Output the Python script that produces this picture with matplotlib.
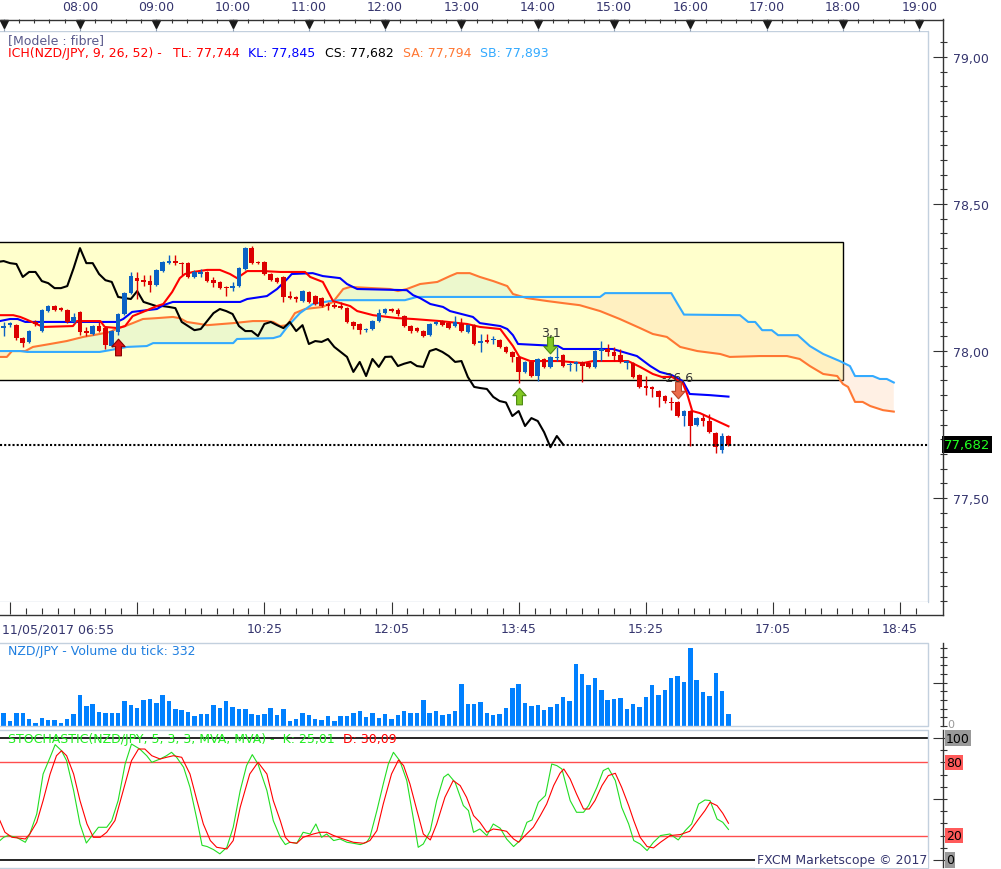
import numpy as np
import matplotlib
matplotlib.use('Agg')
import matplotlib.pyplot as plt
from matplotlib.path import Path
from matplotlib.patches import Rectangle
from matplotlib.lines import Line2D
from matplotlib.ticker import FixedLocator, MultipleLocator, FuncFormatter, NullFormatter

plt.rcParams['font.family'] = ['DejaVu Sans']

# NZD/JPY, 5 minute bars of 11/05/2017, bar 0 = 07:00
opens = [78.078, 78.088, 78.088, 78.044, 78.031, 78.099, 78.068, 78.136, 78.153, 78.146,
         78.139, 78.099, 78.133, 78.068, 78.058, 78.085, 78.078, 78.017, 78.065, 78.126,
         78.197, 78.248, 78.241, 78.238, 78.224, 78.272, 78.301, 78.306, 78.299, 78.299,
         78.252, 78.262, 78.269, 78.241, 78.235, 78.218, 78.214, 78.221, 78.279, 78.350,
         78.303, 78.303, 78.262, 78.248, 78.252, 78.187, 78.184, 78.170, 78.201, 78.187,
         78.180, 78.160, 78.156, 78.153, 78.146, 78.099, 78.092, 78.071, 78.075, 78.102,
         78.129, 78.143, 78.139, 78.119, 78.085, 78.078, 78.068, 78.054, 78.092, 78.102,
         78.095, 78.085, 78.092, 78.065, 78.088, 78.027, 78.037, 78.037, 78.037, 78.014,
         77.997, 77.980, 77.929, 77.963, 77.915, 77.973, 77.946, 77.976, 77.986, 77.952,
         77.956, 77.963, 77.959, 77.946, 78.000, 78.007, 77.997, 77.986, 77.959, 77.959,
         77.918, 77.881, 77.878, 77.864, 77.847, 77.828, 77.827, 77.779, 77.796, 77.748,
         77.772, 77.762, 77.721, 77.663, 77.711]
highs = [78.099, 78.099, 78.092, 78.048, 78.071, 78.105, 78.143, 78.156, 78.156, 78.150,
         78.143, 78.129, 78.136, 78.082, 78.088, 78.099, 78.082, 78.071, 78.129, 78.201,
         78.269, 78.269, 78.258, 78.258, 78.279, 78.306, 78.326, 78.326, 78.303, 78.303,
         78.276, 78.279, 78.272, 78.252, 78.238, 78.221, 78.235, 78.286, 78.354, 78.357,
         78.306, 78.306, 78.265, 78.252, 78.255, 78.204, 78.187, 78.207, 78.204, 78.190,
         78.184, 78.167, 78.167, 78.167, 78.150, 78.102, 78.095, 78.078, 78.105, 78.143,
         78.146, 78.146, 78.146, 78.122, 78.088, 78.082, 78.071, 78.095, 78.102, 78.105,
         78.099, 78.119, 78.112, 78.092, 78.092, 78.058, 78.058, 78.051, 78.041, 78.017,
         78.000, 77.983, 77.966, 77.966, 77.976, 77.976, 77.983, 78.014, 77.990, 77.963,
         77.966, 77.966, 77.963, 78.003, 78.034, 78.024, 78.014, 78.007, 77.969, 77.963,
         77.922, 77.915, 77.881, 77.867, 77.850, 77.844, 77.830, 77.799, 77.799, 77.776,
         77.786, 77.786, 77.724, 77.721, 77.714]
lows = [78.051, 78.082, 78.037, 78.014, 78.027, 78.085, 78.065, 78.133, 78.136, 78.136,
        78.095, 78.095, 78.054, 78.051, 78.054, 78.065, 78.007, 78.014, 78.054, 78.122,
        78.194, 78.177, 78.221, 78.201, 78.221, 78.269, 78.296, 78.293, 78.258, 78.248,
        78.248, 78.252, 78.235, 78.218, 78.211, 78.187, 78.204, 78.218, 78.276, 78.296,
        78.296, 78.258, 78.238, 78.231, 78.167, 78.177, 78.167, 78.167, 78.163, 78.156,
        78.150, 78.139, 78.146, 78.143, 78.095, 78.075, 78.058, 78.065, 78.071, 78.099,
        78.126, 78.133, 78.119, 78.082, 78.061, 78.065, 78.048, 78.051, 78.088, 78.085,
        78.075, 78.082, 78.065, 78.061, 78.020, 77.997, 78.027, 78.024, 78.010, 77.993,
        77.963, 77.891, 77.925, 77.912, 77.898, 77.942, 77.942, 77.966, 77.946, 77.932,
        77.932, 77.895, 77.942, 77.942, 77.966, 77.983, 77.966, 77.959, 77.939, 77.908,
        77.874, 77.850, 77.844, 77.810, 77.823, 77.799, 77.776, 77.745, 77.677, 77.745,
        77.745, 77.721, 77.653, 77.653, 77.677]
closes = [78.085, 78.094, 78.044, 78.027, 78.068, 78.092, 78.139, 78.153, 78.139, 78.139,
          78.099, 78.116, 78.065, 78.063, 78.085, 78.068, 78.020, 78.068, 78.126, 78.197,
          78.255, 78.238, 78.235, 78.224, 78.276, 78.303, 78.306, 78.299, 78.296, 78.252,
          78.269, 78.269, 78.238, 78.231, 78.214, 78.214, 78.221, 78.282, 78.350, 78.299,
          78.299, 78.262, 78.241, 78.235, 78.184, 78.180, 78.177, 78.204, 78.167, 78.160,
          78.153, 78.153, 78.150, 78.146, 78.099, 78.085, 78.071, 78.075, 78.102, 78.129,
          78.143, 78.136, 78.126, 78.085, 78.068, 78.068, 78.051, 78.092, 78.099, 78.088,
          78.078, 78.099, 78.068, 78.088, 78.024, 78.034, 78.031, 78.041, 78.014, 77.997,
          77.980, 77.929, 77.963, 77.915, 77.973, 77.946, 77.980, 77.981, 77.949, 77.957,
          77.963, 77.949, 77.946, 78.000, 78.007, 77.997, 77.983, 77.963, 77.966, 77.912,
          77.878, 77.874, 77.871, 77.844, 77.830, 77.825, 77.779, 77.796, 77.745, 77.772,
          77.762, 77.724, 77.673, 77.711, 77.682]
volumes = [385, 144, 385, 385, 192, 96, 240, 164, 164, 96,
           192, 337, 885, 577, 625, 414, 385, 385, 385, 712,
           596, 529, 741, 789, 654, 885, 712, 481, 452, 414,
           279, 356, 337, 596, 519, 712, 539, 481, 481, 337,
           308, 337, 510, 308, 481, 135, 192, 385, 308, 192,
           164, 279, 135, 279, 279, 366, 423, 250, 366, 221,
           337, 192, 308, 423, 385, 366, 741, 366, 423, 308,
           337, 423, 1203, 625, 625, 683, 366, 308, 337, 510,
           1106, 1222, 654, 577, 596, 462, 539, 625, 827, 712,
           1780, 1491, 1174, 1376, 1029, 741, 770, 798, 481, 625,
           539, 827, 1174, 885, 1029, 1376, 1433, 1260, 2241, 1318,
           972, 856, 1520, 1000, 332]

# Ichimoku (9, 26, 52) lines: (bar, price)
tenkan = [(-0.6, 78.122), (1.5, 78.122), (2.6, 78.116), (3.4, 78.109), (6.2, 78.082), (10.9, 78.085),
          (11.5, 78.102), (15.2, 78.102), (15.9, 78.082), (18.0, 78.078), (19.1, 78.085), (20.3, 78.119),
          (21.9, 78.133), (24.1, 78.153), (25.1, 78.160), (26.5, 78.201), (27.7, 78.248), (28.5, 78.262),
          (29.8, 78.269), (32.0, 78.276), (34.0, 78.276), (35.6, 78.262), (36.7, 78.248), (38.3, 78.272),
          (40.8, 78.272), (43.5, 78.269), (47.4, 78.269), (48.2, 78.252), (50.2, 78.235), (51.8, 78.170),
          (53.4, 78.160), (54.5, 78.153), (55.6, 78.136), (58.1, 78.122), (61.9, 78.112), (64.4, 78.109),
          (68.6, 78.102), (72.9, 78.092), (74.9, 78.082), (78.1, 78.075), (80.1, 78.017), (81.1, 77.980),
          (82.8, 77.966), (87.5, 77.966), (91.1, 77.959), (92.7, 77.966), (98.2, 77.966), (100.1, 77.946),
          (102.1, 77.922), (103.5, 77.912), (105.1, 77.912), (106.8, 77.891), (107.5, 77.854),
          (108.3, 77.796), (109.5, 77.789), (111.5, 77.769), (114.0, 77.744)]
kijun = [(-0.6, 78.102), (1.0, 78.109), (2.2, 78.109), (3.4, 78.099), (17.8, 78.099), (18.8, 78.109),
         (20.2, 78.133), (24.1, 78.143), (25.1, 78.156), (26.6, 78.167), (37.2, 78.167), (38.3, 78.177),
         (41.4, 78.187), (43.0, 78.211), (44.6, 78.245), (45.3, 78.262), (48.6, 78.265), (50.2, 78.255),
         (52.9, 78.248), (54.0, 78.228), (55.6, 78.211), (63.4, 78.207), (64.4, 78.190), (65.5, 78.180),
         (67.1, 78.160), (69.1, 78.150), (70.2, 78.136), (73.8, 78.116), (74.9, 78.095), (78.1, 78.085),
         (79.2, 78.075), (80.1, 78.054), (80.9, 78.024), (87.2, 78.017), (88.0, 78.007), (95.8, 78.007),
         (98.0, 77.993), (99.6, 77.983), (101.7, 77.949), (103.2, 77.929), (105.1, 77.918),
         (106.8, 77.898), (107.9, 77.854), (111.1, 77.850), (114.0, 77.845)]
senkou_a = [(-0.6, 77.980), (0.5, 77.980), (1.3, 78.000), (3.4, 78.000), (4.6, 78.014), (7.3, 78.024),
            (9.9, 78.034), (12.5, 78.048), (15.1, 78.058), (16.7, 78.065), (18.0, 78.078), (19.1, 78.085),
            (20.3, 78.095), (21.9, 78.109), (24.1, 78.112), (26.6, 78.116), (27.7, 78.112), (28.8, 78.099),
            (30.9, 78.092), (32.0, 78.088), (36.1, 78.095), (39.2, 78.102), (41.4, 78.102), (42.4, 78.099),
            (43.5, 78.085), (44.6, 78.088), (45.8, 78.129), (47.4, 78.143), (50.2, 78.150), (51.8, 78.167),
            (53.4, 78.211), (54.5, 78.218), (60.8, 78.211), (62.0, 78.204), (63.4, 78.211), (65.5, 78.228),
            (68.2, 78.235), (70.2, 78.255), (71.3, 78.265), (73.3, 78.265), (74.9, 78.252), (77.0, 78.238),
            (79.2, 78.221), (80.1, 78.194), (82.3, 78.180), (85.5, 78.170), (88.0, 78.163), (90.6, 78.156),
            (93.8, 78.136), (96.9, 78.109), (100.1, 78.078), (102.1, 78.058), (104.3, 78.048),
            (106.4, 78.014), (109.1, 78.000), (112.7, 77.990), (114.2, 77.980), (118.9, 77.983),
            (123.2, 77.983), (125.2, 77.973), (126.8, 77.949), (128.9, 77.922), (131.1, 77.915),
            (132.0, 77.888), (132.8, 77.878), (133.9, 77.827), (135.1, 77.827), (136.3, 77.813),
            (138.3, 77.799), (140.0, 77.794)]
senkou_b = [(-0.6, 78.000), (2.6, 78.000), (3.7, 77.997), (15.1, 77.997), (16.7, 78.003), (19.4, 78.014),
            (22.5, 78.017), (23.5, 78.027), (36.1, 78.027), (36.7, 78.041), (42.4, 78.044), (43.5, 78.051),
            (44.6, 78.082), (45.3, 78.099), (46.6, 78.129), (48.6, 78.160), (51.3, 78.170), (52.9, 78.173),
            (63.1, 78.173), (65.0, 78.184), (93.8, 78.184), (94.6, 78.197), (105.0, 78.197), (106.0, 78.160),
            (107.0, 78.124), (115.8, 78.122), (117.1, 78.099), (118.2, 78.099), (119.3, 78.071),
            (120.8, 78.071), (121.8, 78.054), (124.9, 78.054), (126.8, 78.017), (128.9, 77.990),
            (131.5, 77.966), (133.1, 77.949), (133.9, 77.915), (136.7, 77.915), (137.8, 77.905),
            (138.9, 77.905), (140.0, 77.893)]
chikou_shift = 26

# stochastic (5, 3, 3): (bar, value)
stoch_k = [(-0.6, 15.9), (0, 18.6), (0.7, 20.0), (2, 18.6), (3.4, 14.5), (4.1, 21.3), (5.2, 37.7),
           (6.2, 70.5), (7.3, 84.2), (8.1, 94.6), (9.1, 89.6), (9.9, 81.4), (11, 56.9), (12, 29.5),
           (13, 13.9), (14.1, 21.3), (14.9, 26.8), (16.2, 26.8), (17, 32.3), (18, 48.7), (19.1, 78.7),
           (20.1, 95.1), (21.4, 91.0), (22.5, 85.5), (23.3, 80.1), (24.6, 82.8), (25.6, 85.5), (26.4, 88.3),
           (27.2, 84.2), (28.3, 76.0), (29.3, 59.6), (30.4, 33.0), (31.2, 12.0), (32.0, 11.0), (33.0, 8.5),
           (34.0, 5.0), (35.1, 10.4), (36.1, 26.8), (37.2, 56.9), (38.2, 77.4), (39.1, 86.4), (40, 78.7),
           (41.4, 56.9), (42.4, 32.3), (43.5, 18.6), (44.3, 12.6), (45, 14.5), (46.1, 13.7), (47.1, 22.7),
           (48.2, 21.3), (49.1, 29.5), (50, 18.6), (50.8, 21.3), (51.9, 15.9), (52.9, 17.2), (54, 14.5),
           (55, 13.7), (56.1, 12.6), (57.1, 14.5), (57.6, 18.6), (58.7, 40.5), (59.7, 62.3), (60.5, 78.7),
           (61.3, 88.3), (62.3, 81.4), (63.4, 65.1), (64.4, 35.0), (65.2, 10.4), (66, 13.1), (67.1, 24.1),
           (68.1, 48.7), (69.2, 67.8), (69.9, 70.5), (71, 63.7), (72.3, 44.6), (73.1, 40.5), (73.9, 22.7),
           (74.9, 25.4), (76, 20.0), (77, 29.5), (78.1, 26.0), (79.1, 17.2), (80.2, 11.0), (81.2, 15.9),
           (82.3, 30.9), (83.1, 32.8), (84.1, 47.3), (85.2, 52.8), (86.2, 78.7), (87, 77.4), (87.8, 74.6),
           (89.1, 48.7), (90.1, 39.1), (91.2, 39.1), (92, 44.6), (93.3, 59.6), (94.3, 73.3), (95.1, 75.4),
           (96.2, 65.1), (97.2, 43.2), (98.3, 29.5), (99.1, 15.9), (100.1, 13.1), (101.2, 7.7),
           (102.2, 14.5), (103.3, 20.0), (104.8, 21.3), (106.1, 16.4), (107.2, 24.1), (108.2, 29.5),
           (109.3, 45.9), (110.3, 49.2), (111.1, 48.7), (112.2, 33.6), (113.1, 30.9), (114, 25.01)]
stoch_d = [(-0.6, 32.3), (0.2, 22.7), (1.3, 18.6), (2.6, 17.8), (3.4, 17.2), (4.1, 21.3), (5.2, 30.9),
           (6.2, 48.7), (7.3, 70.5), (8.3, 85.5), (9.1, 89.6), (9.9, 85.5), (11, 70.5), (12, 48.7),
           (13.1, 29.5), (14.1, 18.6), (15.2, 18.6), (16.2, 22.7), (17.5, 32.3), (18.8, 56.9), (20.1, 81.4),
           (21.2, 91.0), (22.2, 91.0), (23.3, 85.5), (24.6, 82.8), (25.6, 84.2), (26.7, 85.5), (28, 84.2),
           (29.3, 70.5), (30.4, 48.7), (31.4, 29.5), (32.5, 15.9), (33.5, 10.4), (35.1, 9.0), (36.1, 15.9),
           (37.2, 43.2), (38.7, 70.5), (40, 80.1), (41.4, 70.5), (42.4, 48.7), (43.5, 32.3), (44.3, 18.6),
           (45, 14.5), (46.1, 13.7), (47.1, 18.6), (48.7, 21.3), (49.8, 22.7), (50.8, 22.7), (51.9, 20.0),
           (53.4, 17.2), (55, 14.5), (56.6, 13.7), (57.6, 15.9), (58.7, 24.1), (59.7, 45.9), (61, 70.5),
           (62.1, 82.0), (62.9, 77.4), (63.9, 62.3), (65, 40.5), (66, 21.3), (67.1, 16.4), (68.1, 29.5),
           (69.4, 51.4), (70.7, 65.1), (71.8, 61.0), (72.8, 51.4), (73.9, 36.4), (74.9, 30.9), (76, 22.7),
           (77, 25.4), (78.1, 24.6), (79.1, 23.5), (80.2, 17.2), (81, 14.5), (82, 20.0), (83.3, 26.8),
           (84.4, 36.4), (85.4, 45.9), (86.5, 61.0), (87.5, 71.1), (88.1, 74.6), (89.1, 66.4), (90.1, 54.1),
           (91.2, 41.8), (92.1, 41.8), (93, 48.7), (94.1, 61.0), (95.1, 69.2), (96.2, 71.1), (97.2, 59.6),
           (98.3, 44.6), (99.1, 32.3), (100.1, 18.6), (101.2, 11.0), (102.2, 9.9), (103.3, 14.5),
           (104.8, 20.0), (106.4, 20.8), (107.9, 23.5), (109.3, 33.6), (110.3, 40.5), (111.1, 47.3),
           (112.2, 44.6), (113.1, 38.3), (114, 30.09)]

# signals drawn on the chart
signal_bars = [18, 81, 86, 106]
signal_prices = [78.014, 77.847, 78.022, 77.869]
signal_dirs = ['up', 'up', 'down', 'down']
signal_labels = ['', '', '3,1', '-26,6']

# "fibre" box drawn by the user, up to 18:00
box_bars = (-5, 132)
box_prices = (77.900, 78.371)

# ---------------------------------------------------------------------------
W, H = 1001, 870
fig = plt.figure(figsize=(W / 100, H / 100), dpi=100)
fig.patch.set_facecolor('white')

FRAME = '#c3d0de'
DARK = '#333333'
NAVY = '#35356e'
XLIM = (-0.58, 145.38)


def frac(l, t, r, b):
    return [l / W, 1 - b / H, (r - l) / W, (b - t) / H]


def ftext(x, y, s, **kw):
    kw.setdefault('va', 'center')
    kw.setdefault('fontsize', 9)
    return fig.text(x / W, 1 - y / H, s, **kw)


def fline(x0, y0, x1, y1, **kw):
    fig.add_artist(Line2D([x0 / W, x1 / W], [1 - y0 / H, 1 - y1 / H],
                          transform=fig.transFigure, **kw))


def comma(v, n):
    return f'{v:.{n}f}'.replace('.', ',')


def panel(top, bottom):
    a = fig.add_axes(frac(0, top, 928, bottom))
    a.set_xlim(*XLIM)
    for s in a.spines.values():
        s.set_visible(False)
    a.spines['right'].set_position(('outward', 14))
    a.yaxis.tick_right()
    a.set_xticks([])
    a.plot([0, 1, 1, 0], [1, 1, 0, 0], transform=a.transAxes, color=FRAME, lw=1,
           clip_on=False, zorder=10)
    a.tick_params(axis='y', which='major', direction='in', length=10, width=0.8,
                  color=DARK, labelsize=9, labelcolor=NAVY, pad=4)
    a.tick_params(axis='y', which='minor', direction='in', length=5, width=0.8, color=DARK)
    return a


bars = np.arange(len(closes))
o = np.array(opens)
c = np.array(closes)

# ---- price panel ----
ax = panel(32, 603)
ax.add_patch(Rectangle((box_bars[0], box_prices[0]), box_bars[1] - box_bars[0],
                       box_prices[1] - box_prices[0], facecolor='#ffffcc',
                       edgecolor='black', lw=1, zorder=1))

ax_x, ax_y = map(np.array, zip(*senkou_a))
bx_x, bx_y = map(np.array, zip(*senkou_b))
grid = np.union1d(ax_x, bx_x)
ya = np.interp(grid, ax_x, ax_y)
yb = np.interp(grid, bx_x, bx_y)
ax.fill_between(grid, ya, yb, where=ya >= yb, interpolate=True, color='#d6f0d0',
                alpha=0.45, lw=0, zorder=2)
ax.fill_between(grid, ya, yb, where=ya < yb, interpolate=True, color='#ffcfa8',
                alpha=0.3, lw=0, zorder=2)
ax.plot(ax_x, ax_y, color='#ff7733', lw=1.5, zorder=3)
ax.plot(bx_x, bx_y, color='#33aaff', lw=1.5, zorder=3)
ax.plot(bars - chikou_shift, c, color='black', lw=1.5, zorder=3)
ax.plot(*zip(*kijun), color='#0000ff', lw=1.5, zorder=4)
ax.plot(*zip(*tenkan), color='#ff0000', lw=1.5, zorder=4)

cols = np.where(c >= o, '#0b62c4', '#dc0000')
ax.vlines(bars, lows, highs, colors=cols, lw=1, zorder=5)
ax.bar(bars, np.maximum(np.abs(c - o), 0.003), bottom=np.minimum(o, c), width=0.72,
       color=cols, lw=0, zorder=6)

ax.axhline(closes[-1], color='black', lw=1.5, ls=(0, (1, 1)), zorder=7)

up_verts = [(0, 1), (-0.8, 0.1), (-0.35, 0.1), (-0.35, -1), (0.35, -1), (0.35, 0.1), (0.8, 0.1), (0, 1)]
arrow_up = Path(up_verts, closed=True)
arrow_down = Path([(x, -y) for x, y in up_verts], closed=True)
arrow_style = [('#e01414', '#8a0000'), ('#82c824', '#4d8a12'), ('#82c824', '#4d8a12'), ('#ec6c4c', '#b84428')]
for b, p, d, lbl, (fc, ec) in zip(signal_bars, signal_prices, signal_dirs, signal_labels, arrow_style):
    ax.plot(b, p, ls='none', marker=arrow_up if d == 'up' else arrow_down, ms=12,
            mfc=fc, mec=ec, mew=0.8, zorder=8)
    if lbl:
        ax.annotate(lbl, (b, p), xytext=(0, 9), textcoords='offset points', ha='center',
                    va='center', fontsize=9, color=DARK, zorder=9)

ax.set_ylim(77.1465, 79.0885)
ax.yaxis.set_major_locator(MultipleLocator(0.5))
ax.yaxis.set_minor_locator(MultipleLocator(0.05))
ax.yaxis.set_major_formatter(FuncFormatter(lambda v, pos: comma(v, 2)))
ax.text(1.0172, closes[-1], comma(closes[-1], 3), transform=ax.get_yaxis_transform(),
        color='#22ff22', fontsize=9.5, ha='left', va='center', clip_on=False, zorder=12,
        bbox=dict(boxstyle='square,pad=0.15', fc='black', ec='none'))

ftext(8, 41, '[Modele : fibre]', color='#5a5a8c', ha='left')
ftext(8, 54, 'ICH(NZD/JPY, 9, 26, 52) -', color='#ff0000', ha='left')
ftext(173, 54, 'TL: ' + comma(tenkan[-1][1], 3), color='#ff0000', ha='left')
ftext(248, 54, 'KL: ' + comma(kijun[-1][1], 3), color='#0000ff', ha='left')
ftext(325, 54, 'CS: ' + comma(closes[-1], 3), color='black', ha='left')
ftext(403, 54, 'SA: ' + comma(senkou_a[-1][1], 3), color='#ff7733', ha='left')
ftext(480, 54, 'SB: ' + comma(senkou_b[-1][1], 3), color='#33aaff', ha='left')

# ---- time scales ----
axt = fig.add_axes(frac(0, 20, 928, 32))
axt.set_xlim(*XLIM)
axt.set_ylim(0, 1)
for s in axt.spines.values():
    s.set_visible(False)
axt.set_yticks([])
hour_bars = np.arange(0, 145, 12)
axt.xaxis.tick_top()
axt.set_xticks(hour_bars)
axt.set_xticklabels([''] + [f'{7 + k:02d}:00' for k in range(1, len(hour_bars))])
axt.xaxis.set_minor_locator(FixedLocator(np.arange(0, 145, 2.4)))
axt.tick_params(axis='x', which='major', direction='in', length=8.6, width=0.8,
                color='#8c9cb0', labelsize=9, labelcolor=NAVY, pad=4)
axt.tick_params(axis='x', which='minor', direction='in', length=3, width=0.8, color=DARK)
axt.plot(hour_bars, [0.62] * len(hour_bars), ls='none', marker='v', ms=6,
         color='#1a1a1a', clip_on=False)

axb = fig.add_axes(frac(0, 603, 928, 615))
axb.set_xlim(*XLIM)
axb.set_ylim(0, 1)
for s in axb.spines.values():
    s.set_visible(False)
axb.set_yticks([])
axb.set_xticks([1, 21, 41, 61, 81, 101, 121, 141])
axb.set_xticklabels(['', '', '10:25', '12:05', '13:45', '15:25', '17:05', '18:45'])
axb.xaxis.set_minor_locator(FixedLocator(np.arange(1, 146, 2.5)))
axb.tick_params(axis='x', which='major', direction='in', length=8.6, width=0.8,
                color=DARK, labelsize=9, labelcolor=NAVY, pad=6)
axb.tick_params(axis='x', which='minor', direction='in', length=4.3, width=0.8, color=DARK)
ftext(2, 630, '11/05/2017 06:55', color=NAVY, ha='left')

fline(0, 20.5, 942.5, 20.5, color=DARK, lw=1)
fline(0, 615.5, 942.5, 615.5, color=DARK, lw=1)
fline(942.5, 20, 942.5, 616, color=DARK, lw=1)

# ---- volume panel ----
axv = panel(644, 727)
axv.bar(bars, volumes, width=0.7, color='#0080ff', lw=0)
axv.set_ylim(0, 2395)
axv.yaxis.set_major_locator(FixedLocator([1250]))
axv.yaxis.set_minor_locator(MultipleLocator(250))
axv.yaxis.set_major_formatter(NullFormatter())
fline(942.5, 644, 942.5, 727, color=DARK, lw=1)
ftext(8, 652, f'NZD/JPY - Volume du tick: {volumes[-1]}', color='#1f7fe0', ha='left')
ftext(947, 725, '0', color='#999999', ha='left', fontsize=8)

# ---- stochastic panel ----
axs = panel(731, 869)
axs.set_ylim(-6.6, 106.6)
axs.axhline(100, color='black', lw=1.2, zorder=2)
axs.axhline(0, color='black', lw=1.2, zorder=2)
axs.axhline(80, color='#ff4d4d', lw=1, zorder=2)
axs.axhline(20, color='#ff4d4d', lw=1, zorder=2)
axs.plot(*zip(*stoch_k), color='#22dd22', lw=0.8, zorder=3)
axs.plot(*zip(*stoch_d), color='#ff0000', lw=0.8, zorder=3)
axs.yaxis.set_major_locator(FixedLocator([0, 50, 100]))
axs.yaxis.set_minor_locator(MultipleLocator(10))
axs.yaxis.set_major_formatter(NullFormatter())
for v, bg in [(100, '#999999'), (80, '#ff5a5a'), (20, '#ff5a5a'), (0, '#999999')]:
    axs.text(1.0195, v, str(v), transform=axs.get_yaxis_transform(), ha='left', va='center',
             fontsize=9, color='black', clip_on=False,
             bbox=dict(boxstyle='square,pad=0.1', fc=bg, ec='none'))
fline(942.5, 731, 942.5, 868, color=DARK, lw=1)
ftext(8, 740, 'STOCHASTIC(NZD/JPY, 5, 3, 3, MVA, MVA) -  K: ' + comma(stoch_k[-1][1], 2),
      color='#22ee22', ha='left')
ftext(343, 740, 'D: ' + comma(stoch_d[-1][1], 2), color='#ff0000', ha='left')
ftext(927, 861, 'FXCM Marketscope \u00a9 2017', color=NAVY, ha='right', zorder=20,
      bbox=dict(boxstyle='square,pad=0.1', fc='white', ec='none'))

fig.savefig('out.png', dpi=100)
